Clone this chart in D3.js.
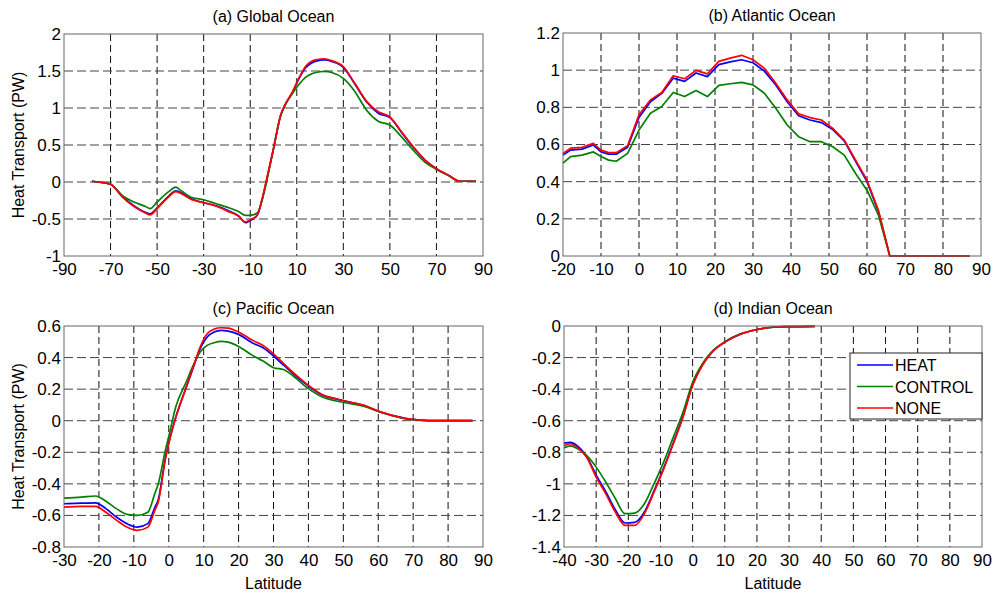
<!DOCTYPE html>
<html>
<head>
<meta charset="utf-8">
<script src="https://cdn.jsdelivr.net/npm/d3@7"></script>
<style>
  body { margin: 0; background: #fff; }
  text { font-family: "Liberation Sans", Arial, sans-serif; fill: #000; }
</style>
</head>
<body>
<script>
// ---- data ----
var seriesNames = ["HEAT", "CONTROL", "NONE"];
var seriesColors = ["#0000ff", "#008000", "#ff0000"];

// (a) Global Ocean
var latA = [-78,-75,-70,-65,-60,-55,-53,-50,-45,-42,-40,-35,-30,-25,-20,-15,-12,-10,-7,-5,-3,0,3,5,8,11,14,17,20,22,25,30,35,40,45,50,55,60,65,70,75,80,85,87];
var heatA = [0.01,0.0,-0.03,-0.19,-0.32,-0.41,-0.43,-0.35,-0.19,-0.12,-0.14,-0.23,-0.28,-0.32,-0.38,-0.46,-0.55,-0.52,-0.45,-0.25,0.02,0.45,0.89,1.04,1.20,1.40,1.55,1.62,1.645,1.65,1.63,1.55,1.32,1.08,0.93,0.87,0.67,0.47,0.30,0.18,0.095,0.01,0.01,0.01];
var controlA = [0.01,0.0,-0.03,-0.18,-0.27,-0.33,-0.36,-0.27,-0.13,-0.07,-0.11,-0.21,-0.24,-0.29,-0.34,-0.40,-0.45,-0.45,-0.42,-0.26,0.0,0.45,0.89,1.04,1.19,1.32,1.42,1.47,1.49,1.495,1.48,1.40,1.22,0.97,0.82,0.77,0.61,0.43,0.27,0.17,0.09,0.01,0.01,0.01];
var noneA = [0.01,0.0,-0.03,-0.20,-0.33,-0.42,-0.445,-0.36,-0.20,-0.13,-0.15,-0.24,-0.28,-0.32,-0.39,-0.46,-0.54,-0.51,-0.45,-0.24,0.03,0.45,0.90,1.05,1.21,1.41,1.57,1.64,1.66,1.665,1.64,1.56,1.33,1.09,0.95,0.88,0.68,0.48,0.30,0.18,0.095,0.01,0.01,0.01];

// (b) Atlantic Ocean
var latB = [-20,-18,-15,-12,-10,-8,-6,-3,0,3,6,9,12,15,18,21,24,27,30,33,36,39,42,45,48,51,54,57,60,63,66,70,75,80,87];
var heatB = [0.543,0.57,0.575,0.597,0.56,0.548,0.548,0.585,0.745,0.83,0.875,0.957,0.94,0.985,0.965,1.03,1.045,1.056,1.04,0.995,0.92,0.83,0.755,0.732,0.718,0.68,0.62,0.51,0.40,0.24,0,0,0,0,0];
var controlB = [0.50,0.535,0.543,0.56,0.535,0.516,0.51,0.552,0.678,0.768,0.804,0.88,0.858,0.89,0.858,0.918,0.927,0.934,0.921,0.876,0.795,0.705,0.642,0.615,0.615,0.588,0.543,0.444,0.354,0.22,0,0,0,0,0];
var noneB = [0.552,0.58,0.585,0.606,0.57,0.556,0.556,0.594,0.76,0.84,0.88,0.97,0.954,0.999,0.98,1.047,1.065,1.08,1.056,1.01,0.93,0.84,0.765,0.745,0.732,0.687,0.624,0.516,0.408,0.246,0,0,0,0,0];

// (c) Pacific Ocean
var latC = [-30,-25,-21,-18,-15,-12,-9,-6,-4,-3,-1,0,2,5,7,9,11,13,15,17,20,24,27,30,33,36,40,44,48,52,56,60,64,68,72,76,80,87];
var heatC = [-0.526,-0.522,-0.52,-0.557,-0.61,-0.652,-0.674,-0.652,-0.55,-0.50,-0.24,-0.14,0.02,0.21,0.335,0.456,0.53,0.562,0.572,0.568,0.547,0.492,0.462,0.41,0.35,0.29,0.22,0.162,0.137,0.116,0.096,0.06,0.034,0.013,0.004,0,0,0];
var controlC = [-0.49,-0.484,-0.477,-0.51,-0.557,-0.593,-0.60,-0.58,-0.462,-0.40,-0.19,-0.10,0.087,0.245,0.35,0.435,0.477,0.494,0.502,0.498,0.47,0.414,0.378,0.336,0.323,0.277,0.203,0.15,0.125,0.108,0.09,0.058,0.032,0.012,0.004,0,0,0];
var noneC = [-0.547,-0.543,-0.543,-0.58,-0.63,-0.674,-0.695,-0.674,-0.568,-0.515,-0.25,-0.146,0.02,0.213,0.34,0.467,0.551,0.58,0.589,0.587,0.562,0.509,0.477,0.424,0.36,0.298,0.224,0.165,0.139,0.118,0.097,0.061,0.034,0.013,0.004,0,0,0];

// (d) Indian Ocean
var latD = [-40,-38,-36,-33,-30,-27,-24,-21,-18,-15,-12,-9,-6,-3,0,3,6,10,15,20,25,30,38];
var heatD = [-0.742,-0.737,-0.757,-0.825,-0.945,-1.05,-1.165,-1.248,-1.244,-1.178,-1.045,-0.9,-0.74,-0.572,-0.372,-0.248,-0.165,-0.102,-0.05,-0.023,-0.008,-0.004,-0.002];
var controlD = [-0.772,-0.76,-0.775,-0.82,-0.894,-0.989,-1.094,-1.189,-1.185,-1.126,-0.999,-0.862,-0.704,-0.546,-0.356,-0.24,-0.162,-0.1,-0.05,-0.022,-0.008,-0.004,-0.002];
var noneD = [-0.757,-0.746,-0.767,-0.83,-0.957,-1.063,-1.18,-1.263,-1.263,-1.189,-1.052,-0.905,-0.746,-0.578,-0.377,-0.251,-0.167,-0.103,-0.051,-0.023,-0.008,-0.004,-0.002];

// tick values
var xTicksA = [-90,-70,-50,-30,-10,10,30,50,70,90];
var yTicksA = [-1,-0.5,0,0.5,1,1.5,2];
var xTicksB = [-20,-10,0,10,20,30,40,50,60,70,80,90];
var yTicksB = [0,0.2,0.4,0.6,0.8,1,1.2];
var xTicksC = [-30,-20,-10,0,10,20,30,40,50,60,70,80,90];
var yTicksC = [-0.8,-0.6,-0.4,-0.2,0,0.2,0.4,0.6];
var xTicksD = [-40,-30,-20,-10,0,10,20,30,40,50,60,70,80,90];
var yTicksD = [-1.4,-1.2,-1,-0.8,-0.6,-0.4,-0.2,0];

var titles = ["(a) Global Ocean", "(b) Atlantic Ocean", "(c) Pacific Ocean", "(d) Indian Ocean"];

// ---- layout ----
var width = 996, height = 597;
var panels = [
  {title: titles[0], box: [64, 483, 34, 256], lat: latA, vals: [heatA, controlA, noneA], xt: xTicksA, yt: yTicksA, ylab: true, xlab: false, curve: d3.curveMonotoneX},
  {title: titles[1], box: [563, 981, 33, 256], lat: latB, vals: [heatB, controlB, noneB], xt: xTicksB, yt: yTicksB, ylab: false, xlab: false, curve: d3.curveLinear},
  {title: titles[2], box: [64, 483, 326, 547], lat: latC, vals: [heatC, controlC, noneC], xt: xTicksC, yt: yTicksC, ylab: true, xlab: true, curve: d3.curveMonotoneX},
  {title: titles[3], box: [564, 982, 326, 547], lat: latD, vals: [heatD, controlD, noneD], xt: xTicksD, yt: yTicksD, ylab: false, xlab: true, curve: d3.curveMonotoneX, legend: true}
];

var svg = d3.select("body").append("svg").attr("width", width).attr("height", height);
svg.append("rect").attr("width", width).attr("height", height).attr("fill", "#fff");

panels.forEach(function(p) {
  var L = p.box[0], R = p.box[1], T = p.box[2], B = p.box[3];
  var x = d3.scaleLinear().domain(d3.extent(p.xt)).range([L, R]);
  var y = d3.scaleLinear().domain(d3.extent(p.yt)).range([B, T]);
  var g = svg.append("g");

  // grid
  g.append("g").selectAll("line").data(p.xt.slice(1, -1)).enter().append("line")
    .attr("x1", function(d) { return x(d); }).attr("x2", function(d) { return x(d); })
    .attr("y1", T).attr("y2", B)
    .attr("stroke", "#111").attr("stroke-width", 1).attr("stroke-dasharray", "7,4");
  g.append("g").selectAll("line").data(p.yt.slice(1, -1)).enter().append("line")
    .attr("y1", function(d) { return y(d); }).attr("y2", function(d) { return y(d); })
    .attr("x1", L).attr("x2", R)
    .attr("stroke", "#444").attr("stroke-width", 1).attr("stroke-dasharray", "9,4");

  // axes with labels only (MATLAB-like box)
  var xAxis = d3.axisBottom(x).tickValues(p.xt).tickSize(0).tickPadding(7).tickFormat(function(d) { return String(d); });
  var yAxis = d3.axisLeft(y).tickValues(p.yt).tickSize(0).tickPadding(3).tickFormat(function(d) { return String(d); });
  var gx = g.append("g").attr("transform", "translate(0," + B + ")").call(xAxis);
  var gy = g.append("g").attr("transform", "translate(" + L + ",0)").call(yAxis);
  [gx, gy].forEach(function(a) {
    a.select(".domain").remove();
    a.selectAll("text").attr("font-size", 17).attr("font-family", "Liberation Sans, Arial, sans-serif").attr("fill", "#000");
  });

  // series
  var line = d3.line()
    .x(function(d, i) { return x(p.lat[i]); })
    .y(function(d) { return y(d); })
    .curve(p.curve);
  p.vals.forEach(function(v, k) {
    g.append("path").datum(v)
      .attr("d", line)
      .attr("fill", "none")
      .attr("stroke", seriesColors[k])
      .attr("stroke-width", 1.7)
      .attr("stroke-linejoin", "round");
  });

  // box
  g.append("rect").attr("x", L).attr("y", T).attr("width", R - L).attr("height", B - T)
    .attr("fill", "none").attr("stroke", "#666").attr("stroke-width", 1);

  // title
  g.append("text").attr("x", (L + R) / 2).attr("y", T - 12)
    .attr("text-anchor", "middle").attr("font-size", 16).text(p.title);

  if (p.ylab) {
    g.append("text")
      .attr("transform", "translate(" + 24 + "," + ((T + B) / 2) + ") rotate(-90)")
      .attr("text-anchor", "middle").attr("font-size", 16).text("Heat Transport (PW)");
  }
  if (p.xlab) {
    g.append("text").attr("x", (L + R) / 2).attr("y", B + 42)
      .attr("text-anchor", "middle").attr("font-size", 16).text("Latitude");
  }

  if (p.legend) {
    var lg = g.append("g").attr("transform", "translate(" + (R - 132) + "," + (T + 27) + ")");
    lg.append("rect").attr("width", 132).attr("height", 66)
      .attr("fill", "#fff").attr("stroke", "#222").attr("stroke-width", 1);
    seriesNames.forEach(function(n, k) {
      var yy = 12 + k * 21.5;
      lg.append("line").attr("x1", 7).attr("x2", 43).attr("y1", yy).attr("y2", yy)
        .attr("stroke", seriesColors[k]).attr("stroke-width", 1.7);
      lg.append("text").attr("x", 45).attr("y", yy + 6).attr("font-size", 16).text(n);
    });
  }
});
</script>
</body>
</html>
